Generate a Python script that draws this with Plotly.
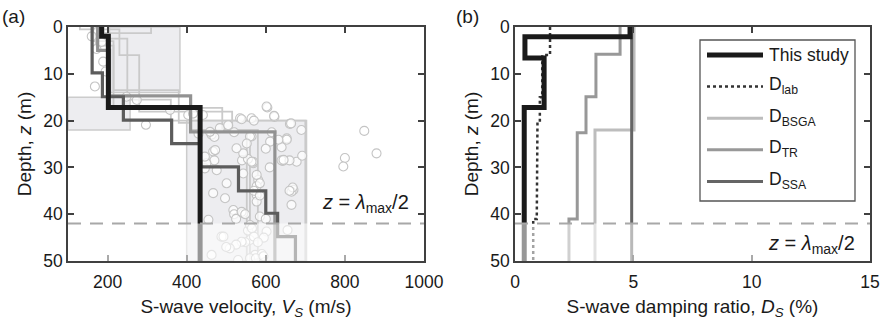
import plotly.graph_objects as go

W, H = 882, 325

# ---------------- data ----------------
# Panel (a): S-wave velocity profiles (values per layer, layer boundaries in m)
vs_this = [185, 202, 434]
z_this = [0, 2, 17.2, 50]

vs_dark = [161, 187, 240, 362, 434, 531, 600, 630, 675]
z_dark = [0, 9.8, 14.9, 19.9, 24.9, 29.9, 35, 39.8, 44.8, 50]

vs_mid = [175, 205, 410, 623]
z_mid = [0, 5, 14.7, 22.4, 50]

vs_light_1 = [310, 170, 215, 490, 560]
z_light_1 = [0, 1.3, 4, 17.3, 22, 50]
vs_light_2 = [130, 230, 280, 515, 580]
z_light_2 = [0, 0.5, 6, 18.1, 22, 50]
vs_light_3 = [190, 250, 360, 700]
z_light_3 = [0, 2.5, 15.5, 20, 50]
vs_light_4 = [165, 215, 380, 410, 552]
z_light_4 = [0, 3, 13.5, 20.5, 22, 50]

# uncertainty boxes (Vs min, Vs max, z top, z bottom)
box_vs_min = [205, 100, 400]
box_vs_max = [383, 257, 703]
box_z_top = [0, 15, 20]
box_z_bot = [14, 22, 50]

# measured Vs data points
vs_pts = [172, 189, 168, 175, 160, 195, 185, 248, 274, 297, 358, 404, 441, 535, 564, 463, 484, 564,
          604, 622, 570, 539, 661, 849, 653, 560, 664, 653, 640, 643, 678, 692, 670, 880, 800, 796,
          611, 552, 568, 543, 581, 577, 577, 585, 600, 568, 555, 560, 570, 573, 590, 543, 548, 665,
          668, 665, 455, 467, 497, 501, 476, 446, 518, 520, 525, 539, 548, 560, 565, 577, 585, 577,
          570, 585, 602, 595, 580, 539, 525, 509, 500, 488, 463, 530, 560, 575, 594, 640, 660, 655,
          660, 610, 568, 540, 555, 467, 470, 450, 543, 493, 470, 520, 690, 615, 600, 505, 430, 416,
          459, 472, 446, 602, 621, 526, 632, 645, 564]
z_pts = [4.7, 7.4, 12.7, 1.0, 2.0, 9.5, 3.2, 14.9, 15.6, 20.9, 17.7, 18.8, 18.8, 19.5, 19.5, 23.0, 21.6, 23.4,
         17.2, 19.2, 20.0, 19.7, 20.7, 22.2, 23.8, 23.4, 20.6, 24.1, 25.7, 28.6, 28.8, 27.5, 34.8, 27.0, 28.0, 29.8,
         24.5, 24.9, 29.1, 31.3, 32.7, 34.0, 35.9, 40.5, 41.0, 42.7, 43.5, 45.5, 44.8, 48.7, 48.5, 39.8, 46.0, 35.2,
         34.3, 38.0, 41.2, 35.5, 36.6, 33.4, 30.6, 30.2, 39.1, 40.0, 41.0, 39.5, 40.0, 42.3, 43.0, 31.6, 33.4, 37.3,
         35.0, 36.0, 43.7, 45.0, 46.0, 45.9, 46.5, 47.3, 47.0, 44.8, 48.7, 49.8, 49.4, 49.4, 49.0, 28.5, 28.5, 43.4,
         35.0, 30.0, 28.8, 28.5, 28.2, 26.6, 28.5, 29.1, 27.0, 44.8, 23.5, 22.5, 22.0, 22.5, 26.0, 21.0, 22.8, 18.5,
         22.4, 26.3, 27.7, 17.0, 19.0, 25.9, 24.1, 28.4, 28.8]

# Panel (b): damping ratio profiles (%)
ds_this = [4.86, 0.42, 1.23, 0.39]
z_ds_this = [0, 2.1, 6.6, 17.2, 50]
ds_lab = [1.48, 1.15, 1.05, 0.95, 0.92, 0.77]
z_ds_lab = [0, 6, 15, 20, 28, 41, 50]
ds_bsga = [5.03, 3.38]
z_ds_bsga = [0, 22, 50]
ds_tr = [4.44, 3.42, 3.0, 2.63, 2.28]
z_ds_tr = [0, 5.8, 14.9, 22.6, 41, 50]
ds_ssa = [4.93]
z_ds_ssa = [0, 50]

legend_labels = ["This study", "D<sub>lab</sub>", "D<sub>BSGA</sub>", "D<sub>TR</sub>", "D<sub>SSA</sub>"]

z_half = 42  # z = lambda_max / 2

vs_ticks = [200, 400, 600, 800, 1000]
ds_ticks = [0, 5, 10, 15]
z_ticks = [0, 10, 20, 30, 40, 50]

# ---------------- helpers ----------------
def steps(vals, bounds):
    xs, ys = [], []
    for i, v in enumerate(vals):
        xs += [v, v]
        ys += [bounds[i], bounds[i + 1]]
    return xs, ys

def px(x):
    return x / W

def py(y):
    return 1 - y / H

FONT = "Liberation Sans, Arial, Helvetica, sans-serif"
AX = "#404040"
TXT = "#1a1a1a"

fig = go.Figure()

# ---------------- panel (a) ----------------
for vals, bnds in [(vs_light_1, z_light_1), (vs_light_2, z_light_2),
                   (vs_light_3, z_light_3), (vs_light_4, z_light_4)]:
    xs, ys = steps(vals, bnds)
    fig.add_trace(go.Scatter(x=xs, y=ys, mode="lines", line=dict(color="#cacaca", width=1.8),
                             xaxis="x", yaxis="y", showlegend=False, hoverinfo="skip"))

fig.add_trace(go.Scatter(x=vs_pts, y=z_pts, mode="markers",
                         marker=dict(size=9, color="rgba(255,255,255,0.7)",
                                     line=dict(color="#c4c4c4", width=1.1)),
                         xaxis="x", yaxis="y", showlegend=False, hoverinfo="skip"))

for vals, bnds, col, wd in [(vs_mid, z_mid, "#929292", 3.2), (vs_dark, z_dark, "#5c5c5c", 3.2),
                            (vs_this, z_this, "#1a1a1a", 5)]:
    xs, ys = steps(vals, bnds)
    fig.add_trace(go.Scatter(x=xs, y=ys, mode="lines", line=dict(color=col, width=wd),
                             xaxis="x", yaxis="y", showlegend=False, hoverinfo="skip"))

# ---------------- panel (b) ----------------
series_b = [
    (ds_bsga, z_ds_bsga, "#bdbdbd", 3, "solid"),
    (ds_tr, z_ds_tr, "#989898", 3, "solid"),
    (ds_ssa, z_ds_ssa, "#656565", 3, "solid"),
    (ds_lab, z_ds_lab, "#333333", 2.5, "dot"),
    (ds_this, z_ds_this, "#1a1a1a", 5, "solid"),
]
for vals, bnds, col, wd, dash in series_b:
    xs, ys = steps(vals, bnds)
    fig.add_trace(go.Scatter(x=xs, y=ys, mode="lines", line=dict(color=col, width=wd, dash=dash),
                             xaxis="x2", yaxis="y2", showlegend=False, hoverinfo="skip"))

shapes = []
# uncertainty boxes
for a, b, t, bt in zip(box_vs_min, box_vs_max, box_z_top, box_z_bot):
    shapes.append(dict(type="rect", xref="x", yref="y", x0=a, x1=b, y0=t, y1=bt,
                       fillcolor="rgba(215,215,222,0.45)", line=dict(color="#cccccc", width=1.5),
                       layer="below"))
# white veil below z = lambda/2 and dashed line
for xr, yr, rng in [("x", "y", (100, 1000)), ("x2", "y2", (0, 15))]:
    shapes.append(dict(type="rect", xref=xr, yref=yr, x0=rng[0], x1=rng[1], y0=z_half, y1=50,
                       fillcolor="rgba(255,255,255,0.55)", line=dict(width=0), layer="above"))
    shapes.append(dict(type="line", xref=xr, yref=yr, x0=rng[0], x1=rng[1], y0=z_half, y1=z_half,
                       line=dict(color="#a8a8a8", width=2, dash="13px,9px"), layer="above"))

# manual legend for panel (b)
lx0, lx1, ly0, ly1 = 700, 855, 40, 201
shapes.append(dict(type="rect", xref="paper", yref="paper", x0=px(lx0), x1=px(lx1),
                   y0=py(ly1), y1=py(ly0), fillcolor="white", line=dict(color="#555555", width=1.3),
                   layer="above"))
leg_styles = [("#1a1a1a", 5, "solid"), ("#333333", 2.5, "dot"), ("#bdbdbd", 3, "solid"),
              ("#989898", 3, "solid"), ("#656565", 3, "solid")]
annotations = []
for i, (lab, (col, wd, dash)) in enumerate(zip(legend_labels, leg_styles)):
    yc = 55 + i * 31.6
    shapes.append(dict(type="line", xref="paper", yref="paper", x0=px(707), x1=px(763),
                       y0=py(yc), y1=py(yc), line=dict(color=col, width=wd, dash=dash), layer="above"))
    annotations.append(dict(xref="paper", yref="paper", x=px(767), y=py(yc if i == 0 else yc - 1),
                            text=lab, showarrow=False, xanchor="left", yanchor="middle",
                            font=dict(size=17.5, color=TXT, family=FONT)))

lam = "<i>z</i> = <i>λ</i><sub>max</sub>/2"
annotations += [
    dict(xref="paper", yref="paper", x=px(411), y=py(203), text=lam, showarrow=False,
         xanchor="right", yanchor="middle", font=dict(size=20, color=TXT, family=FONT)),
    dict(xref="paper", yref="paper", x=px(857), y=py(244), text=lam, showarrow=False,
         xanchor="right", yanchor="middle", font=dict(size=20, color=TXT, family=FONT)),
    dict(xref="paper", yref="paper", x=px(0), y=py(17), text="(a)", showarrow=False,
         xanchor="left", yanchor="middle", font=dict(size=19, color=TXT, family=FONT)),
    dict(xref="paper", yref="paper", x=px(454), y=py(17), text="(b)", showarrow=False,
         xanchor="left", yanchor="middle", font=dict(size=19, color=TXT, family=FONT)),
]

axis_common = dict(showline=True, linecolor=AX, linewidth=1.5, mirror="ticks", ticks="inside",
                   ticklen=6, tickwidth=1.5, tickcolor=AX, showgrid=False, zeroline=False,
                   tickfont=dict(size=17.5, color=TXT, family=FONT), automargin=False)

fig.update_layout(
    width=W, height=H, margin=dict(l=0, r=0, t=0, b=0),
    paper_bgcolor="white", plot_bgcolor="white",
    font=dict(family=FONT, color=TXT),
    xaxis=dict(domain=[px(68), px(424)], range=[100, 1000], tickvals=vs_ticks, anchor="y",
               ticklabelstandoff=4,
               title=dict(text="S-wave velocity, <i>V<sub>S</sub></i> (m/s)", standoff=9,
                          font=dict(size=19, family=FONT)), **axis_common),
    yaxis=dict(domain=[py(261), py(27)], range=[50, 0], tickvals=z_ticks, anchor="x",
               title=dict(text="Depth, <i>z</i> (m)", standoff=7, font=dict(size=19, family=FONT)),
               **axis_common),
    xaxis2=dict(domain=[px(515), px(870)], range=[0, 15], tickvals=ds_ticks, anchor="y2",
                ticklabelstandoff=4,
                title=dict(text="S-wave damping ratio, <i>D<sub>S</sub></i> (%)", standoff=9,
                           font=dict(size=19, family=FONT)), **axis_common),
    yaxis2=dict(domain=[py(261), py(27)], range=[50, 0], tickvals=z_ticks, anchor="x2",
                title=dict(text="Depth, <i>z</i> (m)", standoff=7, font=dict(size=19, family=FONT)),
                **axis_common),
    shapes=shapes, annotations=annotations,
)

fig.write_html("out.html")
